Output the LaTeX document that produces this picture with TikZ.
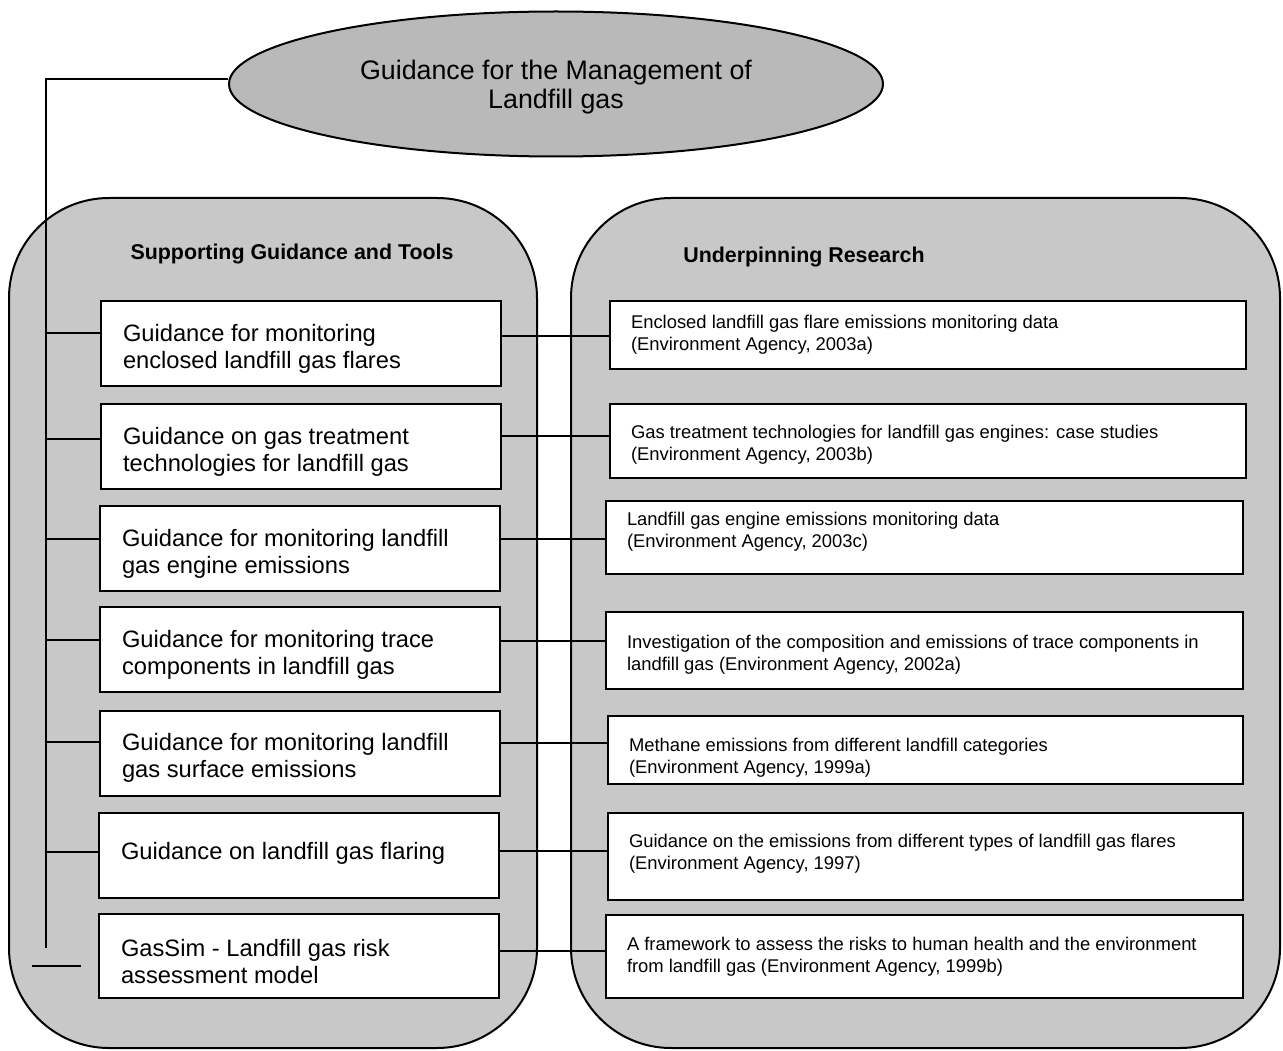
\documentclass[tikz,border=0pt]{standalone}
\usepackage{fontspec}
\setmainfont{Liberation Sans}
\usetikzlibrary{shapes.geometric}
\definecolor{panelgray}{RGB}{200,200,200}
\definecolor{ellgray}{RGB}{185,185,185}
\begin{document}
\begin{tikzpicture}[x=1pt,y=-1pt,
  line width=2pt,
  panel/.style={draw, fill=panelgray, line width=2pt, rounded corners=100pt},
  lbox/.style={draw, fill=white, rectangle, anchor=north west, minimum width=400pt,
    minimum height=85pt, inner sep=0pt},
  rbox/.style={draw, fill=white, rectangle, anchor=north west, minimum width=636pt,
    inner sep=0pt},
  ltext/.style={anchor=west, align=left, inner sep=0pt, font=\fontsize{23.7}{27}\selectfont},
  rtext/.style={anchor=west, align=left, inner sep=0pt, font=\fontsize{18.4}{22}\selectfont},
  head/.style={font=\bfseries\fontsize{21.4}{24}\selectfont},
  conn/.style={draw, line width=1.8pt}
]
\useasboundingbox (0,0) rectangle (1283,1051);
\fill[white] (0,0) rectangle (1283,1051);

% title
\node[ellipse, draw, fill=ellgray, line width=2pt, minimum width=654pt, minimum height=145pt, inner sep=0pt] (T) at (556,84) {};
\node[font=\fontsize{26.8}{29}\selectfont, align=center] (Ttext) at (556,87) {Guidance for the Management of\\Landfill gas};

% panels
\draw[panel] (9,198) rectangle (537,1048);
\draw[panel] (571,198) rectangle (1280,1048);

\node[head] (H1) at (292,254) {Supporting Guidance and Tools};
\node[head] (H2) at (804,257) {Underpinning Research};

% spine
\coordinate (top) at (46,79);
\coordinate (bot) at (46,948);
\coordinate (stubA) at (32,966);
\coordinate (stubB) at (81,966);

% left boxes
\node[lbox] (L1) at (100,300) {};
\node[lbox] (L2) at (100,403) {};
\node[lbox] (L3) at (99,505) {};
\node[lbox] (L4) at (99,606) {};
\node[lbox] (L5) at (99,710) {};
\node[lbox] (L6) at (98,812) {};
\node[lbox, minimum height=84pt] (L7) at (98,913) {};

\node[ltext] (L1t) at (122,349) {Guidance for monitoring\\enclosed landfill gas flares};
\node[ltext] (L2t) at (122,451.5) {Guidance on gas treatment\\technologies for landfill gas};
\node[ltext] (L3t) at (121,553.5) {Guidance for monitoring landfill\\gas engine emissions};
\node[ltext] (L4t) at (121,655) {Guidance for monitoring trace\\components in landfill gas};
\node[ltext] (L5t) at (121,757.5) {Guidance for monitoring landfill\\gas surface emissions};
\node[ltext] (L6t) at (120,853.5) {Guidance on landfill gas flaring};
\node[ltext] (L7t) at (120,961.5) {GasSim - Landfill gas risk\\assessment model};

% right boxes
\node[rbox, minimum height=68pt] (R1) at (609,300) {};
\node[rbox, minimum height=74pt] (R2) at (609,403) {};
\node[rbox, minimum height=73pt, minimum width=637pt] (R3) at (605,500) {};
\node[rbox, minimum height=77pt, minimum width=637pt] (R4) at (605,611) {};
\node[rbox, minimum height=68pt, minimum width=635pt] (R5) at (607,715) {};
\node[rbox, minimum height=87pt, minimum width=635pt] (R6) at (607,812) {};
\node[rbox, minimum height=83pt, minimum width=637pt] (R7) at (605,914) {};

\node[rtext] (R1t) at (630,335) {Enclosed landfill gas flare emissions monitoring data\\(Environment Agency, 2003a)};
\node[rtext] (R2t) at (630,445) {Gas treatment technologies for landfill gas engines: case studies\\(Environment Agency, 2003b)};
\node[rtext] (R3t) at (626,531.5) {Landfill gas engine emissions monitoring data\\(Environment Agency, 2003c)};
\node[rtext] (R4t) at (626,654.5) {Investigation of the composition and emissions of trace components in\\landfill gas (Environment Agency, 2002a)};
\node[rtext] (R5t) at (628,758) {Methane emissions from different landfill categories\\(Environment Agency, 1999a)};
\node[rtext] (R6t) at (628,854) {Guidance on the emissions from different types of landfill gas flares\\(Environment Agency, 1997)};
\node[rtext] (R7t) at (626,956.5) {A framework to assess the risks to human health and the environment\\from landfill gas (Environment Agency, 1999b)};

% spine connectors
\draw[conn] (T.west |- top) -- (top) -- (bot);
\draw[conn] (stubA) -- (stubB);
\foreach \i/\y in {1/333,2/439,3/539,4/640,5/742,6/852} {
  \coordinate (s\i) at (46,\y);
  \draw[conn] (s\i) -- (s\i -| L\i.west);
}
% cross connectors
\foreach \i/\y in {1/336,2/436,3/539,4/641,5/743,6/851,7/951} {
  \coordinate (c\i) at (550,\y);
  \draw[conn] (c\i -| L\i.east) -- (c\i -| R\i.west);
}
\end{tikzpicture}
\end{document}
